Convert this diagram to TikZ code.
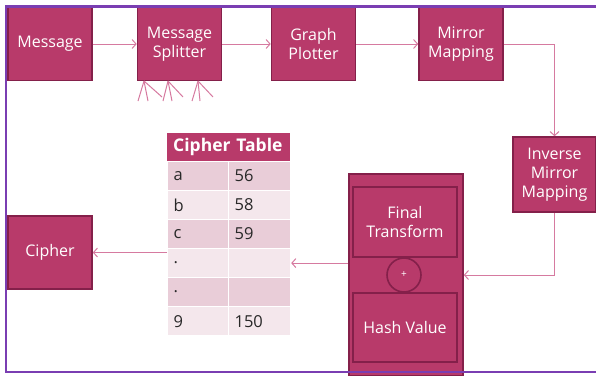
\documentclass[tikz,border=0pt]{standalone}
\usepackage{fontspec}
\setmainfont{Open Sans}
\usetikzlibrary{arrows.meta}
\definecolor{boxfill}{RGB}{184,58,106}
\definecolor{boxline}{RGB}{132,32,74}
\definecolor{linkpink}{RGB}{214,122,160}
\definecolor{framepurple}{RGB}{122,62,178}
\definecolor{rowdark}{RGB}{233,205,216}
\definecolor{rowlight}{RGB}{244,231,236}
\definecolor{celltext}{RGB}{40,40,40}

\begin{document}
\begin{tikzpicture}[x=1pt,y=-1pt,
  stage/.style={draw=boxline, line width=1.6pt, fill=boxfill, text=white,
    font=\fontsize{16}{19}\selectfont, align=center, inner sep=0pt,
    minimum width=84pt, minimum height=73pt},
  link/.style={draw=linkpink, line width=1pt, -{Straight Barb[length=4pt,width=9pt]}},
  fan/.style={draw=linkpink, line width=1pt},
  cell/.style={anchor=north west, minimum height=29pt, inner xsep=6pt, inner ysep=0pt,
    text=celltext, font=\fontsize{16.5}{19}\selectfont, align=left,
    draw=white, line width=1.2pt}
]
\useasboundingbox (0,0) rectangle (596,375);

% pipeline stages
\node[stage] (msg)    at (50,44)     {Message};
\node[stage] (split)  at (179.5,44)  {Message\\Splitter};
\node[stage] (plot)   at (313.5,44)  {Graph\\Plotter};
\node[stage] (mirror) at (461,44)    {Mirror\\Mapping};
\node[stage, minimum width=83pt, minimum height=75pt] (inv) at (554.5,174.5) {Inverse\\Mirror\\Mapping};
\node[stage] (cipher) at (50,252.5)  {Cipher};

% splitter output fans
\foreach \ax/\l/\m/\r in {144/138/148/162, 168/163/172/183, 198/192/200/213}{
  \draw[fan] (\ax,81) -- (\l,101);
  \draw[fan] (\ax,81) -- (\m,101);
  \draw[fan] (\ax,81) -- (\r,97);
}

% combined transform block
\node[stage, minimum width=114pt, minimum height=202pt] (calc) at (406,275) {};
\node[stage, minimum width=104pt, minimum height=70pt] (final) at (405,222) {Final\\Transform};
\node[stage, minimum width=104pt, minimum height=69pt] (hash) at (405,327.5) {Hash Value};
\node[circle, draw=boxline, line width=1.6pt, fill=boxfill, text=white,
  minimum size=34pt, inner sep=0pt, font=\fontsize{10}{12}\selectfont] (plus) at (404,275) {+};

% cipher table
\node[anchor=north west, fill=boxfill, text=white, minimum width=123pt, minimum height=28pt,
  inner xsep=6pt, inner ysep=0pt, text width=111pt, align=left,
  font=\fontsize{17.5}{20}\selectfont\bfseries] (thead) at (167,133) {Cipher Table};
\foreach \i/\k/\v/\c in {1/a/56/rowdark, 2/b/58/rowlight, 3/c/59/rowdark,
                         4/./{}/rowlight, 5/./{}/rowdark, 6/9/150/rowlight}{
  \node[cell, fill=\c, text width=49pt] (c\i a) at (167,{161+(\i-1)*29}) {\k};
  \node[cell, fill=\c, text width=50pt] (c\i b) at (228,{161+(\i-1)*29}) {\v};
}

% connectors
\draw[link] (msg.east) -- (split.west);
\draw[link] (split.east) -- (plot.west);
\draw[link] (plot.east) -- (mirror.west);
\draw[link] (mirror.east) -| (inv.north);
\draw[link] (inv.south) |- (calc.east);
\draw[link] (calc.west |- c4b.east) -- (c4b.east);
\draw[link] (cipher.east -| c4a.west) -- (cipher.east);

% page frame
\draw[framepurple, line width=2.2pt] (596,6.5) -- (6,6.5) -- (6,372) -- (596,372);
\end{tikzpicture}
\end{document}
